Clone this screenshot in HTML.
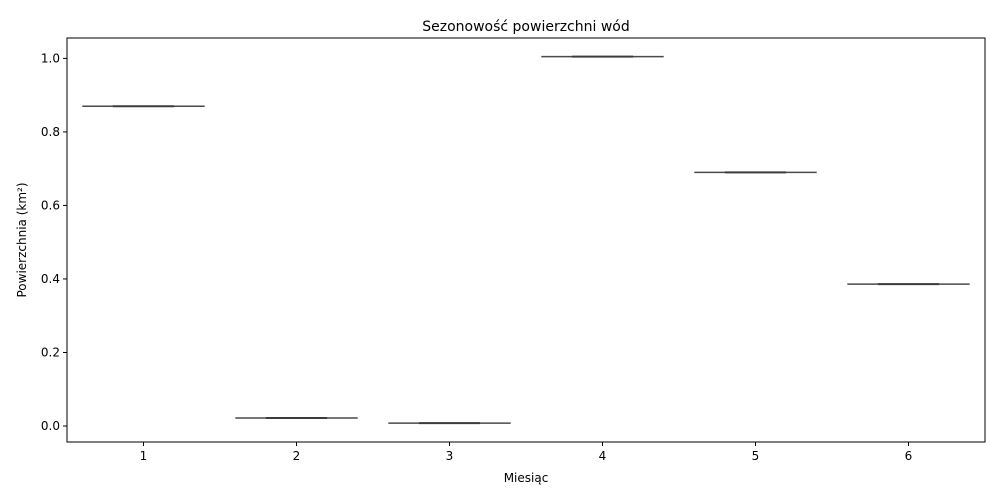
<!DOCTYPE html>
<html><head><meta charset="utf-8"><style>
body{margin:0;background:#fff;font-family:"DejaVu Sans","Liberation Sans",sans-serif;}
</style></head><body>
<svg id="chart" width="1000" height="500" xmlns="http://www.w3.org/2000/svg" font-family="DejaVu Sans, Liberation Sans, sans-serif"></svg>
<script>
const categories=["1","2","3","4","5","6"];
const values=[0.870,0.0217,0.008,1.005,0.690,0.386];
const yTicks=[0.0,0.2,0.4,0.6,0.8,1.0];
const svg=document.getElementById('chart');
const NS='http://www.w3.org/2000/svg';
const L=67,R=985,T=38,B=442;
const yMin=-0.0435,yMax=1.0555;
const y=v=>B-(v-yMin)/(yMax-yMin)*(B-T);
const step=(R-L)/categories.length;
const x=i=>L+step*(i+0.5);
function mk(tag,attrs,parent){const e=document.createElementNS(NS,tag);for(const k in attrs)e.setAttribute(k,attrs[k]);(parent||svg).appendChild(e);return e;}
function txt(s,attrs){const e=mk('text',attrs);e.textContent=s;return e;}
categories.forEach((c,i)=>{
  const cx=x(i),yy=y(values[i]),hw=step*0.4;
  const g=mk('g',{});
  
  
  mk('line',{x1:cx-hw,x2:cx+hw,y1:yy,y2:yy,stroke:'#4a4a4a','stroke-width':1.5},g);
  mk('line',{x1:cx-hw/2,x2:cx+hw/2,y1:yy,y2:yy,stroke:'#3c3c3c','stroke-width':2},g);
  mk('line',{x1:cx,x2:cx,y1:B,y2:B+4,stroke:'#000','stroke-width':1});
  const t=txt(c,{x:cx,y:B+18,'text-anchor':'middle','font-size':12,fill:'#000'});
  
  
});
yTicks.forEach(v=>{
  const yy=y(v);
  mk('line',{x1:L-4,x2:L,y1:yy,y2:yy,stroke:'#000','stroke-width':1});
  const t=txt(v.toFixed(1),{x:L-7,y:yy+4,'text-anchor':'end','font-size':12,fill:'#000'});
  
  
});
const frame=mk('rect',{x:L,y:T,width:R-L,height:B-T,fill:'none',stroke:'#000','stroke-width':1});


const ti=txt('Sezonowość powierzchni wód',{x:(L+R)/2,y:T-7,'text-anchor':'middle','font-size':14,fill:'#000'});


const xl=txt('Miesiąc',{x:(L+R)/2,y:482,'text-anchor':'middle','font-size':12,fill:'#000'});


const yl=txt('Powierzchnia (km²)',{x:0,y:0,'text-anchor':'middle','font-size':12,fill:'#000',transform:'translate(26,'+((T+B)/2)+') rotate(-90)'});


</script>
</body></html>
